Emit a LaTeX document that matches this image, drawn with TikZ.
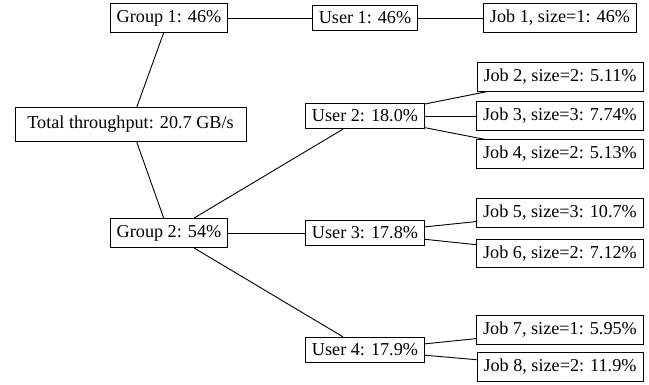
\documentclass[tikz,border=0pt]{standalone}
\usepackage{fontspec}
\setmainfont{Liberation Serif}
\usetikzlibrary{positioning}

\begin{document}
\begin{tikzpicture}[x=0.55pt, y=-0.55pt, font=\normalsize, line width=0.5pt,
  tput/.style={draw, fill=white, inner sep=3.6pt, align=center}]
  \useasboundingbox (0,0) rectangle (649,385);
  % root and groups
  \node[tput, inner xsep=6.8pt, minimum height=19pt] (total) at (130.5,124.5) {Total throughput: 20.7 GB/s};
  \node[tput] (g1) at (169,18) {Group 1: 46\%};
  \node[tput] (g2) at (169,233) {Group 2: 54\%};
  % users
  \node[tput] (u1) at (365,18) {User 1: 46\%};
  \node[tput] (u2) at (365,116) {User 2: 18.0\%};
  \node[tput] (u3) at (365,233) {User 3: 17.8\%};
  \node[tput] (u4) at (365,350) {User 4: 17.9\%};
  % jobs
  \node[tput] (j1) at (560,18) {Job 1, size=1: 46\%};
  \node[tput] (j2) at (560,77) {Job 2, size=2: 5.11\%};
  \node[tput] (j3) at (560,116) {Job 3, size=3: 7.74\%};
  \node[tput] (j4) at (560,154) {Job 4, size=2: 5.13\%};
  \node[tput] (j5) at (560,213) {Job 5, size=3: 10.7\%};
  \node[tput] (j6) at (560,253.5) {Job 6, size=2: 7.12\%};
  \node[tput] (j7) at (560,330) {Job 7, size=1: 5.95\%};
  \node[tput] (j8) at (560,367) {Job 8, size=2: 11.9\%};
  \draw (total)--(g1); \draw (total)--(g2);
  \draw (g1)--(u1); \draw (u1)--(j1);
  \draw (g2)--(u2); \draw (g2)--(u3); \draw (g2)--(u4);
  \draw (u2)--(j2); \draw (u2)--(j3); \draw (u2)--(j4);
  \draw (u3)--(j5); \draw (u3)--(j6);
  \draw (u4)--(j7); \draw (u4)--(j8);
\end{tikzpicture}
\end{document}
